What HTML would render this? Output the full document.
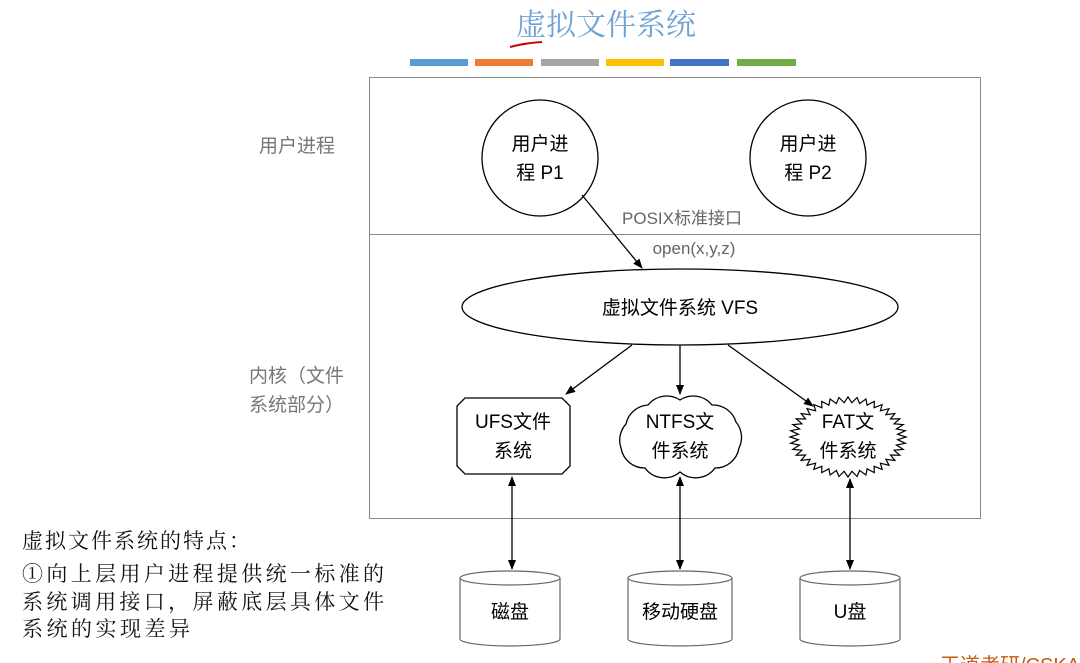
<!DOCTYPE html>
<html><head><meta charset="utf-8"><style>
html,body{margin:0;padding:0;background:#fff;}
svg{display:block;font-family:"Liberation Sans","Noto Sans CJK SC",sans-serif;}
</style></head><body>
<svg id="s" width="1080" height="663" viewBox="0 0 1080 663" xmlns="http://www.w3.org/2000/svg">
<defs>
<marker id="a" markerWidth="10" markerHeight="10" refX="9" refY="5" orient="auto-start-reverse" markerUnits="userSpaceOnUse"><path d="M0,1 L10,5 L0,9 Z" fill="#000"/></marker>
</defs>
<text x="606" y="35" font-size="30" fill="#6fa3d3" text-anchor="middle" font-family="'Noto Serif CJK SC',serif">虚拟文件系统</text>
<path d="M510 47 Q525 43 542 42" stroke="#c00" stroke-width="2" fill="none"/>
<rect x="410" y="59" width="58" height="7" fill="#5b9bd5"/>
<rect x="475" y="59" width="58" height="7" fill="#ed7d31"/>
<rect x="541" y="59" width="58" height="7" fill="#a5a5a5"/>
<rect x="606" y="59" width="58" height="7" fill="#ffc000"/>
<rect x="670" y="59" width="59" height="7" fill="#4472c4"/>
<rect x="737" y="59" width="59" height="7" fill="#70ad47"/>
<rect x="369.5" y="77.5" width="611" height="441" fill="none" stroke="#888" stroke-width="1"/>
<line x1="369" y1="234.5" x2="981" y2="234.5" stroke="#888"/>
<g font-size="19" fill="#777">
<text x="259" y="152">用户进程</text>
<text x="249" y="382">内核（文件</text>
<text x="249" y="411">系统部分）</text>
</g>
<circle cx="540" cy="158" r="58" fill="#fff" stroke="#000" stroke-width="1.3"/>
<circle cx="808" cy="158" r="58" fill="#fff" stroke="#000" stroke-width="1.3"/>
<g font-size="19" fill="#000" text-anchor="middle">
<text x="540" y="150">用户进</text><text x="540" y="179">程 P1</text>
<text x="808" y="150">用户进</text><text x="808" y="179">程 P2</text>
</g>
<g font-size="17" fill="#666" text-anchor="middle">
<text x="682" y="224">POSIX标准接口</text>
<text x="694" y="254">open(x,y,z)</text>
</g>
<line x1="582" y1="195" x2="642" y2="268" stroke="#000" stroke-width="1.3" marker-end="url(#a)"/>
<ellipse cx="680" cy="307" rx="218" ry="38" fill="#fff" stroke="#000" stroke-width="1.3"/>
<text x="680" y="314" font-size="19" text-anchor="middle">虚拟文件系统 VFS</text>
<g stroke="#000" stroke-width="1.3" marker-end="url(#a)">
<line x1="632" y1="345" x2="566" y2="394"/>
<line x1="680" y1="345" x2="680" y2="394"/>
<line x1="728" y1="345" x2="813" y2="406"/>
</g>
<path d="M465 398 L562 398 L570 406 L570 466 L562 474 L465 474 L457 466 L457 406 Z" fill="#fff" stroke="#000" stroke-width="1.3"/>
<path d="M626 424 A24 24 0 0 1 648 405 A24 24 0 0 1 680 400 A24 24 0 0 1 712 405 A24 24 0 0 1 736 422 A24 24 0 0 1 739 448 A24 24 0 0 1 715 468 A24 24 0 0 1 680 472 A24 24 0 0 1 645 468 A24 24 0 0 1 621 448 A24 24 0 0 1 626 424 Z" fill="#fff" stroke="#000" stroke-width="1.3"/>
<polygon id="star" fill="#fff" stroke="#000" stroke-width="1.2" points=""/>
<g font-size="19" text-anchor="middle">
<text x="513" y="428">UFS文件</text><text x="513" y="457">系统</text>
<text x="680" y="428">NTFS文</text><text x="680" y="457">件系统</text>
<text x="848" y="428">FAT文</text><text x="848" y="457">件系统</text>
</g>
<g stroke="#000" stroke-width="1.3" marker-end="url(#a)" marker-start="url(#a)">
<line x1="512" y1="477" x2="512" y2="569"/>
<line x1="680" y1="477" x2="680" y2="569"/>
<line x1="850" y1="479" x2="850" y2="569"/>
</g>
<g fill="#fff" stroke="#666" stroke-width="1.2">
<path d="M460 578 L460 639 A50 7 0 0 0 560 639 L560 578"/><ellipse cx="510" cy="578" rx="50" ry="7"/>
<path d="M628 578 L628 639 A52 7 0 0 0 732 639 L732 578"/><ellipse cx="680" cy="578" rx="52" ry="7"/>
<path d="M800 578 L800 639 A50 7 0 0 0 900 639 L900 578"/><ellipse cx="850" cy="578" rx="50" ry="7"/>
</g>
<g font-size="19" text-anchor="middle">
<text x="510" y="618">磁盘</text><text x="680" y="618">移动硬盘</text><text x="850" y="618">U盘</text>
</g>
<g font-size="21" fill="#111" font-family="'Noto Serif CJK SC',serif">
<text x="22" y="548" textLength="228">虚拟文件系统的特点：</text>
<text x="22" y="581" textLength="362">①向上层用户进程提供统一标准的</text>
<text x="22" y="609" textLength="362">系统调用接口，屏蔽底层具体文件</text>
<text x="22" y="636" textLength="168">系统的实现差异</text>
</g>
<text x="940" y="672" font-size="20" fill="#c55a11">王道考研/CSKAOYAN</text>
</svg>
<script>
(function(){var cx=848,cy=437,rx=58,ry=40,n=40,p=[];for(var i=0;i<n*2;i++){var t=Math.PI*i/n,r=(i%2?0.86:1);p.push((cx+rx*r*Math.cos(t)).toFixed(1)+","+(cy+ry*r*Math.sin(t)).toFixed(1));}document.getElementById("star").setAttribute("points",p.join(" "));})();
</script>
</body></html>
